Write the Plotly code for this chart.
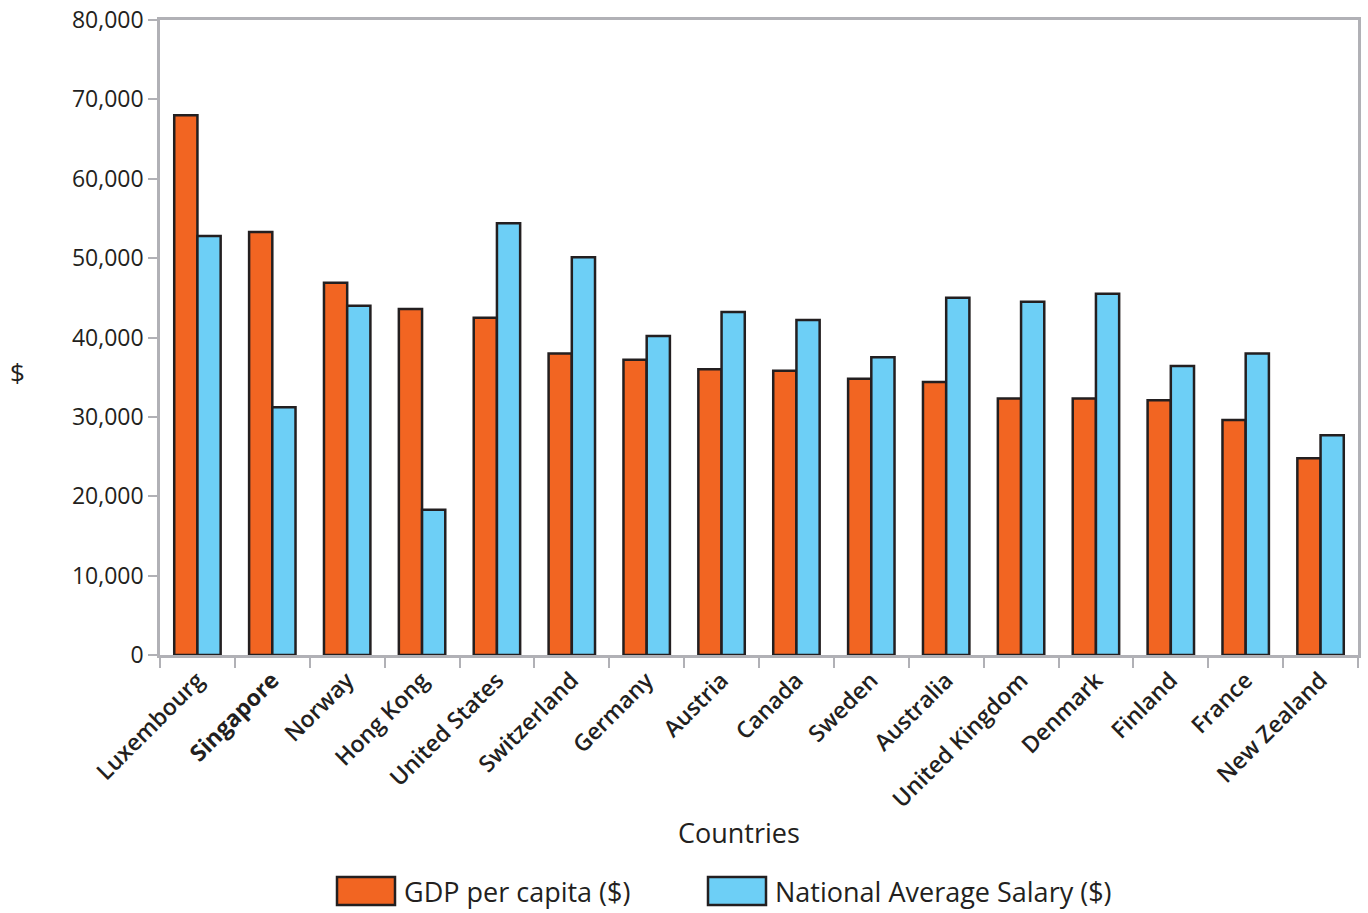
import plotly.graph_objects as go

countries = ["Luxembourg", "Singapore", "Norway", "Hong Kong", "United States",
             "Switzerland", "Germany", "Austria", "Canada", "Sweden", "Australia",
             "United Kingdom", "Denmark", "Finland", "France", "New Zealand"]
gdp_per_capita = [68000, 53300, 46900, 43600, 42500, 38000, 37200, 36000,
                  35800, 34800, 34400, 32300, 32300, 32100, 29600, 24800]
avg_salary = [52800, 31200, 44000, 18300, 54400, 50100, 40200, 43200,
              42200, 37500, 45000, 44500, 45500, 36400, 38000, 27700]
tick_text = [f"<b>{c}</b>" if c == "Singapore" else c for c in countries]
y_ticks = list(range(0, 80001, 10000))

ORANGE = "#f26522"
BLUE = "#6dcff6"
EDGE = "#231f20"
AXIS = "#b1b1b6"
TEXT = "#231f20"
FONT = "Open Sans"

W, H = 1368, 913
L, R, T, B = 160, 10, 20, 258
PW, PH = W - L - R, H - T - B


def px(x):
    """pixel x -> paper fraction"""
    return (x - L) / PW


def py(y):
    """pixel y (from top) -> paper fraction"""
    return (H - B - y) / PH


fig = go.Figure()
fig.add_trace(go.Bar(x=countries, y=gdp_per_capita, name="GDP per capita ($)",
                     marker=dict(color=ORANGE, line=dict(color=EDGE, width=2.5))))
fig.add_trace(go.Bar(x=countries, y=avg_salary, name="National Average Salary ($)",
                     marker=dict(color=BLUE, line=dict(color=EDGE, width=2.5))))

fig.update_layout(
    width=W, height=H,
    margin=dict(l=L, r=R, t=T, b=B, autoexpand=False),
    plot_bgcolor="white", paper_bgcolor="white",
    barmode="group", bargap=0.38, bargroupgap=0,
    showlegend=False,
    font=dict(family=FONT, color=TEXT, size=22),
)
fig.update_xaxes(
    tickvals=countries, ticktext=tick_text, tickangle=-45, automargin=False,
    tickson="boundaries", ticks="outside", ticklen=10, tickwidth=2, tickcolor=AXIS,
    showline=True, linecolor=AXIS, linewidth=2.5, mirror=True,
    showgrid=False, tickfont=dict(size=23, weight=600),
)
fig.update_yaxes(
    range=[0, 80000], tickvals=y_ticks, tickformat=",", automargin=False,
    ticks="outside", ticklen=9, tickwidth=2, tickcolor=AXIS,
    showline=True, linecolor=AXIS, linewidth=2.5, mirror=True,
    showgrid=False, zeroline=False, tickfont=dict(size=23),
)

annotations = [
    dict(text="Countries", x=px(739), y=py(832), font=dict(size=27)),
    dict(text="$", x=px(17), y=py(372), font=dict(size=26)),
]
shapes = []
legend_items = [("GDP per capita ($)", ORANGE, 337), ("National Average Salary ($)", BLUE, 708)]
for label, color, x0 in legend_items:
    shapes.append(dict(type="rect", xref="paper", yref="paper",
                       x0=px(x0), x1=px(x0 + 58), y0=py(905), y1=py(877),
                       fillcolor=color, line=dict(color=EDGE, width=2.5)))
    annotations.append(dict(text=label, x=px(x0 + 65), y=py(891), xanchor="left",
                            font=dict(size=27)))
for a in annotations:
    a.update(xref="paper", yref="paper", showarrow=False, yanchor="middle")
    a.setdefault("xanchor", "center")

fig.update_layout(annotations=annotations, shapes=shapes)

fig.write_html("out.html")
